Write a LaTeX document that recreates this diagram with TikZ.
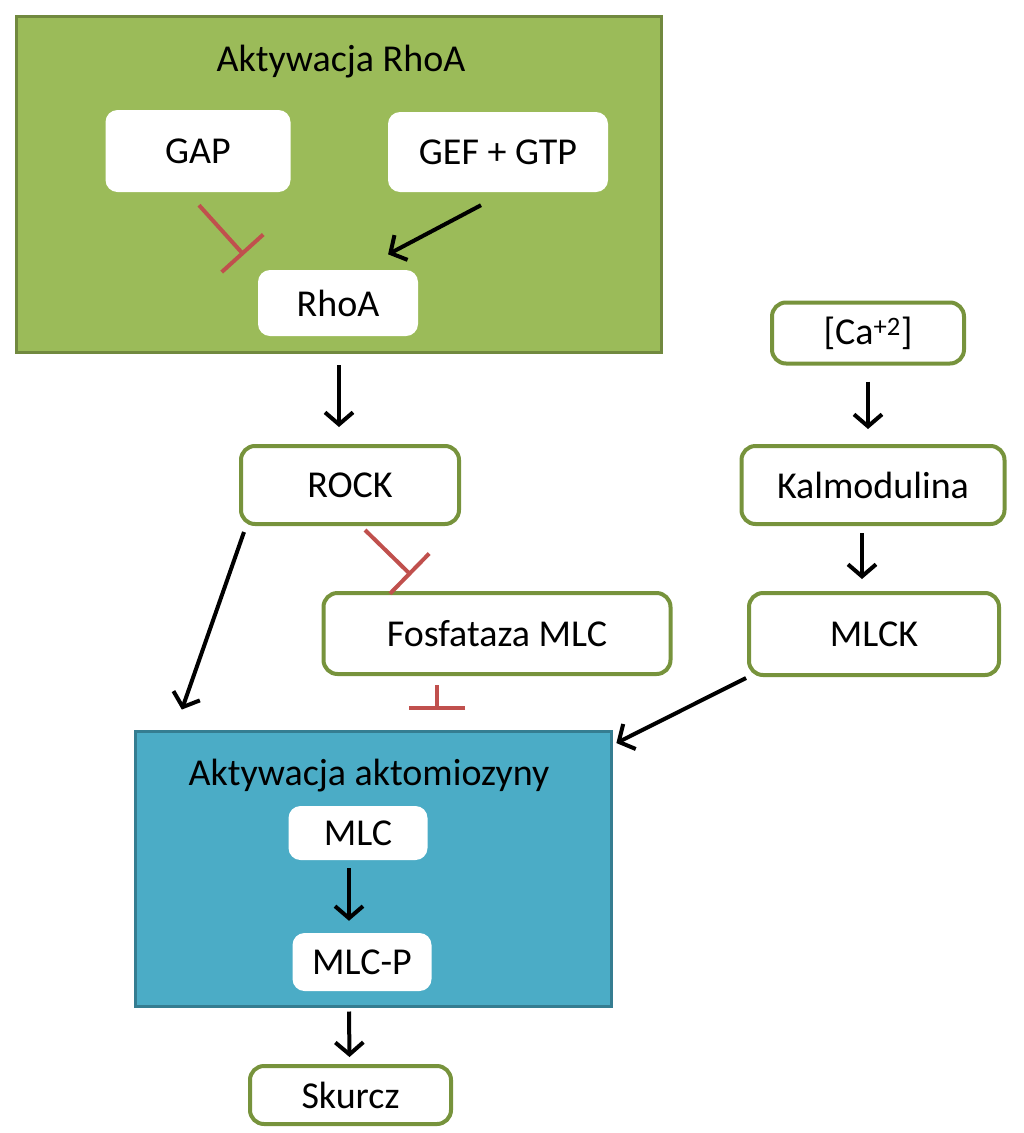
\documentclass[tikz,border=0pt]{standalone}
\usepackage{fontspec}
\setmainfont{Carlito}
\usepackage{tikz}
\usetikzlibrary{
        arrows.meta,
        calc,
        positioning,
        shapes
    }
\definecolor{rhogreen}{HTML}{9BBB59}
\definecolor{rhoedge}{HTML}{71893F}
\definecolor{boxedge}{HTML}{77933C}
\definecolor{actblue}{HTML}{4BACC6}
\definecolor{actedge}{HTML}{357D91}
\definecolor{inhred}{HTML}{C0504D}
\tikzset{>={Straight Barb[length=12pt,width=28pt]},shorten >=1pt}
\tikzset{every node/.style={font=\fontsize{38}{44}\selectfont}}

\begin{document}
\begin{tikzpicture}[x=1pt,y=-1pt]
                \tikzset{group/.style={draw,line width=3pt,inner sep=0pt},
                    whitebox/.style={fill=white,rounded corners=12pt,inner sep=0pt},
                    greenbox/.style={draw=boxedge,line width=4pt,fill=white,rounded corners=14pt,inner sep=0pt},
                    arr/.style={->,line width=4pt,black},
                    inh/.style={-{Bar[width=56pt]},line width=4pt,inhred,shorten >=0pt}}
                    \useasboundingbox (0,0) rectangle (1024,1133);

                    % activation of RhoA
                    \node[group,draw=rhoedge,fill=rhogreen,minimum width=645pt,minimum height=336pt] (Rho) at (338.5,184) {};
                    \node (RhoT) at (341,62) {Aktywacja RhoA};
                    \node[whitebox,minimum width=185pt,minimum height=82pt] (GAP) at (198,151) {GAP};
                    \node[whitebox,minimum width=220pt,minimum height=80pt] (GEF) at (498,152) {GEF + GTP};
                    \node[whitebox,minimum width=160pt,minimum height=66pt] (RhoA) at (338,303) {RhoA};

                    % actomyosin
                    \node[group,draw=actedge,fill=actblue,minimum width=476pt,minimum height=275pt] (Act) at (373,868.5) {};
                    \node (ActT) at (369,776) {Aktywacja aktomiozyny};
                    \node[whitebox,minimum width=139pt,minimum height=54pt] (MLC) at (358,833) {MLC};
                    \node[whitebox,minimum width=139pt,minimum height=58pt] (MLCP) at (362,962) {MLC-P};

                    \node[greenbox,minimum width=192pt,minimum height=61pt] (Ca) at (868,333) {[Ca\textsuperscript{+2}]};
                    \node[greenbox,minimum width=218pt,minimum height=78pt] (ROCK) at (350,485) {ROCK};
                    \node[greenbox,minimum width=263pt,minimum height=78pt] (Kalm) at (873,485) {Kalmodulina};
                    \node[greenbox,minimum width=347pt,minimum height=81pt] (Fosf) at (497,633.5) {Fosfataza MLC};
                    \node[greenbox,minimum width=250pt,minimum height=82pt] (MLCK) at (874,634) {MLCK};
                    \node[greenbox,minimum width=201pt,minimum height=58pt] (Skurcz) at (350.5,1095) {Skurcz};

                \draw[inh] ($(GAP.south)+(1,13)$) -- ($(RhoA.north west)+(-14,-15)$);
                \draw[arr] ($(GEF.south)+(-17,13)$) -- ($(RhoA.north east)+(-31,-15)$);
                \draw[arr] ($(RhoA.south)+(1,29)$) -- ($(ROCK.north)+(-11,-16)$);
                \draw[arr] ($(Ca.south)+(0,16)$) -- ($(Kalm.north)+(-5,-14)$);
                \draw[arr] ($(Kalm.south)+(-11,7)$) -- ($(MLCK.north)+(-12,-11)$);
                \draw[inh] ($(ROCK.south)+(15,4)$) -- ($(Fosf.north)+(-86,-16)$);
                \draw[arr] ($(ROCK.south west)+(5,6)$) -- ($(Act.north west)+(48,-19)$);
                \draw[inh] ($(Fosf.south)+(-60,9)$) -- ($(Act.north)+(64,-20)$);
                \draw[arr] ($(MLCK.south west)+(-1,1)$) -- ($(Act.north east)+(3,14)$);
                \draw[arr] ($(MLC.south)+(-9,8)$) -- ($(MLCP.north)+(-13,-11)$);
                \draw[arr] ($(Act.south)+(-24,4)$) -- ($(Skurcz.north)+(-1,-6)$);
            \end{tikzpicture}
\end{document}
